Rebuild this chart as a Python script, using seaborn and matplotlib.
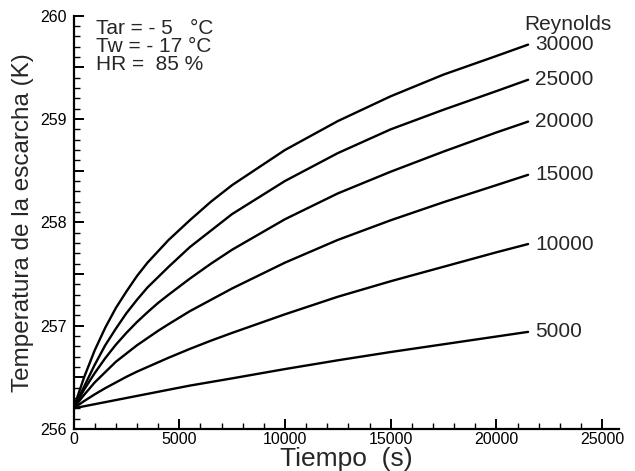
import numpy as np
import pandas as pd
import matplotlib
matplotlib.use("Agg")
import matplotlib.pyplot as plt
from matplotlib.ticker import MultipleLocator, FuncFormatter
import seaborn as sns

# Data
tiempo = [0, 500, 1000, 1500, 2000, 2500, 3000, 3500, 4000, 4500, 5500, 6500, 7500,
          10000, 12500, 15000, 17500, 20000, 21500]
reynolds = [30000, 25000, 20000, 15000, 10000, 5000]
t_30000 = [256.2, 256.50, 256.76, 256.98, 257.17, 257.33, 257.48, 257.61, 257.72, 257.83,
           258.02, 258.20, 258.36, 258.70, 258.98, 259.22, 259.43, 259.61, 259.72]
t_25000 = [256.2, 256.41, 256.62, 256.81, 256.97, 257.12, 257.25, 257.37, 257.47, 257.57,
           257.76, 257.92, 258.08, 258.40, 258.67, 258.90, 259.09, 259.27, 259.38]
t_20000 = [256.2, 256.38, 256.54, 256.685, 256.815, 256.93, 257.035, 257.13, 257.22, 257.30,
           257.455, 257.60, 257.735, 258.03, 258.28, 258.49, 258.685, 258.87, 258.975]
t_15000 = [256.2, 256.33, 256.45, 256.55, 256.65, 256.73, 256.81, 256.88, 256.95, 257.015,
           257.14, 257.25, 257.36, 257.61, 257.83, 258.02, 258.195, 258.36, 258.46]
t_10000 = [256.2, 256.27, 256.335, 256.395, 256.45, 256.505, 256.555, 256.60, 256.645, 256.69,
           256.775, 256.855, 256.93, 257.11, 257.28, 257.43, 257.57, 257.71, 257.79]
t_5000 = [256.2, 256.22, 256.24, 256.26, 256.28, 256.30, 256.32, 256.34, 256.36, 256.38,
          256.42, 256.455, 256.49, 256.58, 256.665, 256.745, 256.82, 256.895, 256.94]
series = [t_30000, t_25000, t_20000, t_15000, t_10000, t_5000]
conditions = ["Tar = - 5   \u00b0C", "Tw = - 17 \u00b0C", "HR =  85 %"]

rows = []
for re_, vals in zip(reynolds, series):
    for x, y in zip(tiempo, vals):
        rows.append({"Tiempo": x, "T": y, "Re": str(re_)})
df = pd.DataFrame(rows)

sns.set_style("ticks")
plt.rcParams["font.family"] = ["Liberation Sans", "DejaVu Sans"]

fig = plt.figure(figsize=(6.35, 4.71), dpi=100)
ax = fig.add_axes([73.5 / 635, 42 / 471, (619 - 73.5) / 635, (429 - 15.7) / 471])

sns.lineplot(data=df, x="Tiempo", y="T", hue="Re", palette=["black"] * len(reynolds),
             linewidth=1.7, legend=False, ax=ax)

ax.set_xlim(0, 25800)
ax.set_ylim(256, 260)
ax.xaxis.set_major_locator(MultipleLocator(5000))
ax.xaxis.set_minor_locator(MultipleLocator(1000))
ax.yaxis.set_major_locator(MultipleLocator(0.5))
ax.yaxis.set_minor_locator(MultipleLocator(0.1))
ax.yaxis.set_major_formatter(FuncFormatter(lambda v, p: f"{int(round(v))}" if abs(v - round(v)) < 1e-6 else ""))
ax.xaxis.set_major_formatter(FuncFormatter(lambda v, p: f"{int(v)}"))

for s in ["top", "right"]:
    ax.spines[s].set_visible(False)
for s in ["left", "bottom"]:
    ax.spines[s].set_linewidth(1.6)
    ax.spines[s].set_color("black")

ax.tick_params(axis="both", which="major", direction="in", length=7, width=1.4,
               labelsize=11.5, colors="black")
ax.tick_params(axis="both", which="minor", direction="in", length=4.3, width=1.0, colors="black")
ax.tick_params(axis="x", which="major", pad=2)
ax.tick_params(axis="y", which="major", pad=5)

ax.set_xlabel("Tiempo  (s)", fontsize=19, labelpad=0)
ax.set_ylabel("Temperatura de la escarcha (K)", fontsize=17.5, labelpad=4)

# condition text
for i, txt in enumerate(conditions):
    ax.text(0.042, 0.970 - i * 0.044, txt, transform=ax.transAxes, fontsize=15,
            ha="left", va="center")

# Reynolds labels at line ends
ax.annotate("Reynolds", xy=(tiempo[-1], 260), xytext=(-3, -6), textcoords="offset points",
            fontsize=15, ha="left", va="center")
for re_, vals in zip(reynolds, series):
    ax.annotate(str(re_), xy=(tiempo[-1], vals[-1]), xytext=(5, 0), textcoords="offset points",
                fontsize=15, ha="left", va="center")

fig.savefig("out.png", dpi=100)
